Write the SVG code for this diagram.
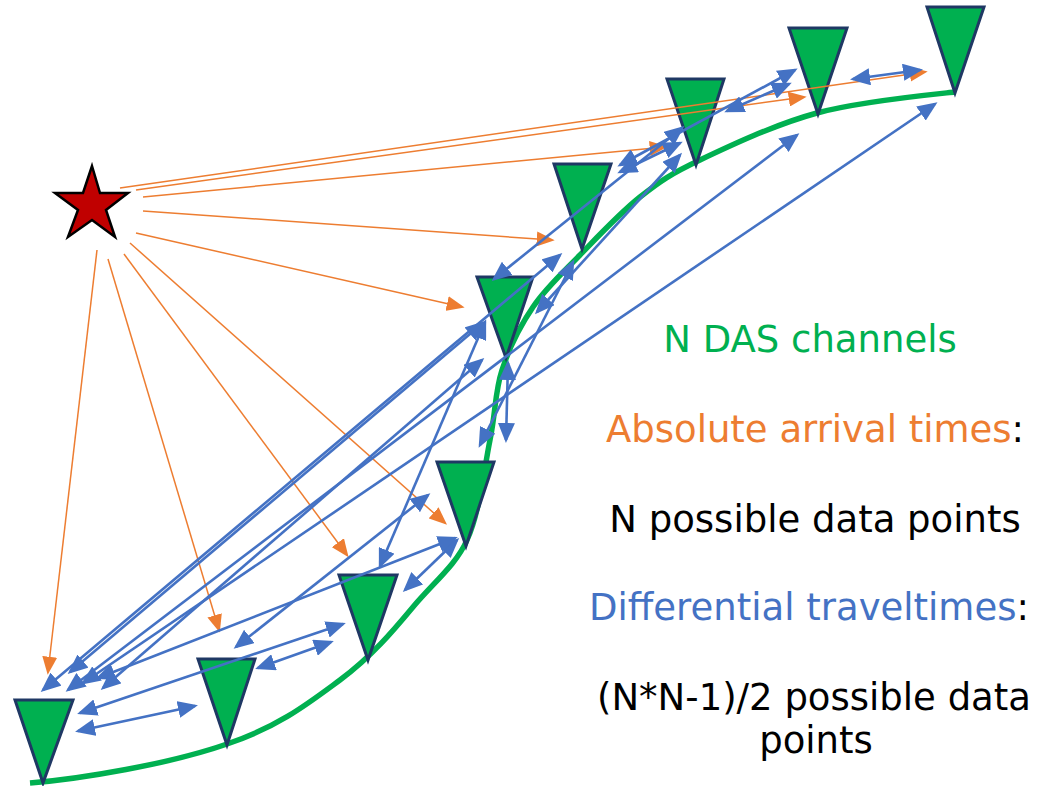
<svg xmlns="http://www.w3.org/2000/svg" width="1038" height="786" viewBox="0 0 1038 786">
<style>
.tri{fill:#00B050;stroke:#1F3864;stroke-width:3;stroke-linejoin:miter}
.cable{fill:none;stroke:#00B050;stroke-width:5.5}
.abs{stroke:#ED7D31;stroke-width:1.5;fill:none;marker-end:url(#ao)}
.dif{stroke:#4472C4;stroke-width:2.6;fill:none;marker-start:url(#ab);marker-end:url(#ab)}
.t{font-family:"DejaVu Sans","Liberation Sans",sans-serif;font-size:37px;text-anchor:middle}
</style>
<defs>
<marker id="ab" viewBox="0 0 10 10" preserveAspectRatio="none" refX="8.5" refY="5" markerWidth="20" markerHeight="17" markerUnits="userSpaceOnUse" orient="auto-start-reverse"><path d="M0,0 L10,5 L0,10 z" fill="#4472C4"/></marker>
<marker id="ao" viewBox="0 0 10 10" preserveAspectRatio="none" refX="8.5" refY="5" markerWidth="18" markerHeight="15" markerUnits="userSpaceOnUse" orient="auto"><path d="M0,0 L10,5 L0,10 z" fill="#ED7D31"/></marker>
</defs>
<rect width="1038" height="786" fill="#fff"/>
<g id="cable">
<path class="cable" d="M30,783 C80,779 170,764 227,744 C278.7,726.8 309,702.8 340,680 C371,657.2 393,631 413,607 C434,582 456,565 467,540 C479.8,512.2 484.2,468.3 490,440 C495.8,411.7 494.8,392.2 502,370 C509.2,347.8 520,326.2 533,307 C546,287.8 562.2,273.3 580,255 C597.8,236.7 620,212.8 640,197 C660,181.2 670.5,174 700,160 C729.5,146 774.8,124.5 817,113 C859.2,101.5 930.3,94.7 955,92"/>
</g>
<g id="ch1"><polygon class="tri" points="15,700 73,700 43,783"/></g>
<g id="ch2"><polygon class="tri" points="198,659 255,659 227,745"/></g>
<g id="ch3"><polygon class="tri" points="339,575 397,575 368,660"/></g>
<g id="ch4"><polygon class="tri" points="437,462 494,462 466,546"/></g>
<g id="ch5"><polygon class="tri" points="477,277 533,277 506,358"/></g>
<g id="ch6"><polygon class="tri" points="554,164 611,164 582,249"/></g>
<g id="ch7"><polygon class="tri" points="667,79 724,79 696,165"/></g>
<g id="ch8"><polygon class="tri" points="789,28 847,28 818,114"/></g>
<g id="ch9"><polygon class="tri" points="927,7 984,7 955,93"/></g>
<g id="source"><polygon points="92,166 100,193 128,193 106,210 115,237 92,220 68,237 78,210 55,193 83,193" fill="#C00000" stroke="#000" stroke-width="2.5" stroke-linejoin="miter"/></g>
<g id="connectors">
<line class="abs" x1="120" y1="188" x2="925" y2="72"/>
<line class="abs" x1="136" y1="190" x2="804" y2="97"/>
<line class="abs" x1="143" y1="197" x2="665" y2="147"/>
<line class="abs" x1="143" y1="211" x2="552" y2="240"/>
<line class="abs" x1="136" y1="233" x2="462" y2="307"/>
<line class="abs" x1="130" y1="243" x2="445" y2="523"/>
<line class="abs" x1="124" y1="254" x2="347" y2="555"/>
<line class="abs" x1="108" y1="259" x2="219" y2="630"/>
<line class="abs" x1="97" y1="250" x2="48" y2="672"/>
<line class="dif" x1="78" y1="731" x2="195" y2="706"/>
<line class="dif" x1="80" y1="713" x2="343" y2="624"/>
<line class="dif" x1="258" y1="668" x2="331" y2="642"/>
<line class="dif" x1="236" y1="647" x2="428" y2="495"/>
<line class="dif" x1="405" y1="590" x2="457" y2="540"/>
<line class="dif" x1="98" y1="678" x2="455" y2="538"/>
<line class="dif" x1="380" y1="566" x2="485" y2="322"/>
<line class="dif" x1="43" y1="690" x2="560" y2="255"/>
<line class="dif" x1="70" y1="672" x2="483" y2="323"/>
<line class="dif" x1="103" y1="688" x2="482" y2="360"/>
<line class="dif" x1="68" y1="690" x2="797" y2="135"/>
<line class="dif" x1="83" y1="683" x2="935" y2="104"/>
<line class="dif" x1="480" y1="445" x2="573" y2="262"/>
<line class="dif" x1="506" y1="440" x2="508" y2="363"/>
<line class="dif" x1="494" y1="279" x2="682" y2="128"/>
<line class="dif" x1="537" y1="312" x2="680" y2="155"/>
<line class="dif" x1="620" y1="172" x2="680" y2="143"/>
<line class="dif" x1="620" y1="165" x2="795" y2="70"/>
<line class="dif" x1="727" y1="111" x2="789" y2="84"/>
<line class="dif" x1="853" y1="79" x2="920" y2="70"/>
</g>
<g id="labels">
<text class="t" x="810" y="352" fill="#00B050">N DAS channels</text>
<text class="t" x="815" y="442"><tspan fill="#ED7D31">Absolute arrival times</tspan><tspan fill="#000">:</tspan></text>
<text class="t" x="815" y="532" fill="#000">N possible data points</text>
<text class="t" x="809" y="620"><tspan fill="#4472C4">Differential traveltimes</tspan><tspan fill="#000">:</tspan></text>
<text class="t" x="814" y="710" fill="#000">(N*N-1)/2 possible data</text>
<text class="t" x="816" y="753" fill="#000">points</text>
</g>
</svg>
